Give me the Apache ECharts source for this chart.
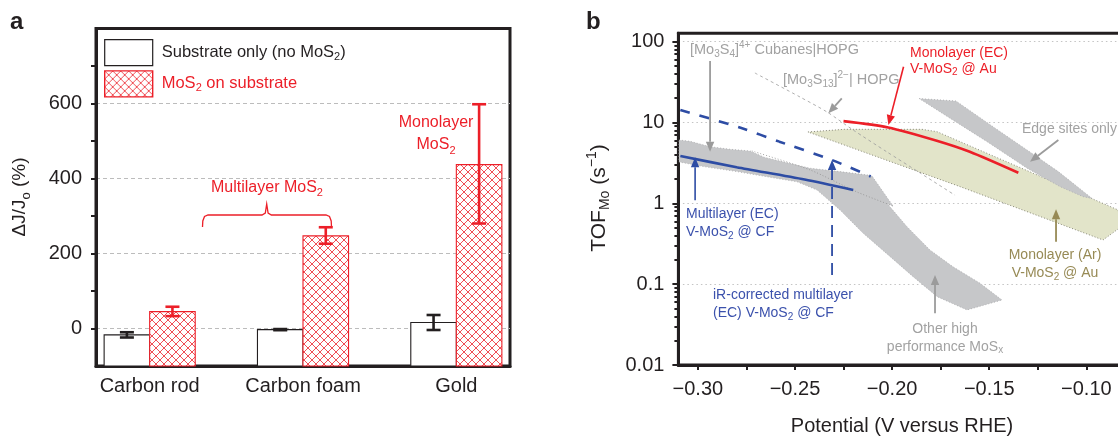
<!DOCTYPE html>
<html>
<head>
<meta charset="utf-8">
<script src="https://cdn.jsdelivr.net/npm/echarts@6/dist/echarts.min.js"></script>
<style>
  html, body { margin: 0; padding: 0; background: #fff; }
  #chart { width: 1118px; height: 436px; }
</style>
</head>
<body>
<div id="chart"></div>
<script>
// ---- panel a : dJ/Jo per substrate ----
const categories = ['Carbon rod', 'Carbon foam', 'Gold'];
const substrateOnly = [-17, -3, 16];
const substrateLow = [-24, -4.5, -4];
const substrateHigh = [-10, -1.5, 36];
const mos2OnSubstrate = [45, 247, 437];
const mos2Low = [33, 226, 280];
const mos2High = [58, 270, 598];
const deltaTicks = [0, 200, 400, 600];
const deltaMinorTicks = [100, 300, 500, 700];

// ---- panel b : TOF vs potential, points are [V vs RHE, TOF s^-1] ----
const multilayerEC = [[-0.309, 3.85], [-0.28, 2.8], [-0.245, 1.97], [-0.220, 1.46]];
const multilayerIR = [[-0.309, 14.3], [-0.278, 8.6], [-0.258, 5.8], [-0.231, 3.44], [-0.211, 2.15]];
const monolayerEC = [[-0.225, 10.4], [-0.202, 8.7], [-0.177, 5.96], [-0.160, 4.35], [-0.135, 2.39]];
const monolayerAr = [[-0.2433, 7.64], [-0.2247, 8.24], [-0.1846, 8.24], [-0.1769, 7.71], [-0.0837, 0.83],
  [-0.0815, 0.525], [-0.0914, 0.352], [-0.165, 1.61]];
const edgeSitesOnly = [[-0.1861, 19.8], [-0.1671, 18.5], [-0.1480, 8.87], [-0.1305, 4.57], [-0.1144, 2.47],
  [-0.0970, 1.15], [-0.1017, 1.21], [-0.1135, 1.61], [-0.1305, 2.72], [-0.1511, 5.8], [-0.1686, 10.7]];
const otherMoSx = [[-0.3097, 6.08], [-0.304, 5.86], [-0.2937, 5.02], [-0.2834, 4.67], [-0.2731, 4.45],
  [-0.2659, 3.72], [-0.2541, 3.18], [-0.2422, 2.72], [-0.2268, 2.47], [-0.2124, 2.24], [-0.2103, 2.18],
  [-0.1995, 0.927], [-0.2026, 1.0], [-0.1923, 0.514], [-0.1805, 0.265], [-0.1686, 0.164], [-0.1547, 0.1026],
  [-0.1434, 0.0637], [-0.1614, 0.048], [-0.1768, 0.070], [-0.1892, 0.124], [-0.2010, 0.219], [-0.2149, 0.427],
  [-0.2268, 0.828], [-0.2386, 1.46], [-0.2489, 1.85], [-0.2628, 2.10], [-0.2798, 2.47], [-0.2970, 2.85],
  [-0.3097, 3.25]];
const mo3s13Hopg = [[-0.2706, 41.0], [-0.2474, 20.7], [-0.2335, 13.5], [-0.2201, 8.1], [-0.2026, 4.32],
  [-0.1856, 2.38], [-0.1676, 1.26]];
const cubaneOutline = [[-0.2722, 4.45], [-0.2422, 2.59], [-0.2180, 1.38], [-0.1995, 0.927]];
// arrows: [fromV, fromTOF, toV, toTOF]
const blueArrows = [[-0.3014, 1.09, -0.3014, 3.72]];
const irArrows = [[-0.2309, 0.13, -0.2309, 3.44]];
const redArrows = [[-0.1941, 49, -0.2019, 9.3]];
const grayArrows = [[-0.2937, 57.7, -0.2937, 4.35], [-0.2259, 19.9, -0.2328, 13.0],
  [-0.1144, 6.08, -0.1290, 3.27], [-0.1779, 0.0437, -0.1779, 0.13]];
const khakiArrows = [[-0.1156, 0.336, -0.1156, 0.843]];
const potentialTicks = [-0.30, -0.25, -0.20, -0.15, -0.10];
const potentialMinorTicks = [-0.30, -0.275, -0.25, -0.225, -0.20, -0.175, -0.15, -0.125, -0.10];
const tofTicks = [0.01, 0.1, 1, 10, 100];

const FONT = '"Liberation Sans", Arial, Helvetica, sans-serif';
const INK = '#231f20';
const RED = '#ec1f28';
const BLUE = '#2d4ca4';
const BLUE_TEXT = '#3b51ac';
const GRAY_TEXT = '#a2a2a2';
const GRAY_LINE = '#9a9a9a';
const GRAY_FILL = '#c6c7c9';
const KHAKI_FILL = '#e2e4c9';
const KHAKI_TEXT = '#978a55';

const log = Math.log10;
const logPts = pts => pts.map(p => [p[0], log(p[1])]);

const minorLogTicks = [];
for (let d = -2; d < 2; d++) {
  for (let k = 2; k <= 9; k++) minorLogTicks.push(log(k * Math.pow(10, d)));
}

// red cross-hatch fill
function makeHatch ()
{
  const c = document.createElement('canvas');
  c.width = 8; c.height = 8;
  const g = c.getContext('2d');
  g.fillStyle = '#fff';
  g.fillRect(0, 0, 8, 8);
  g.strokeStyle = '#ee3a42';
  g.lineWidth = 0.9;
  g.beginPath();
  g.moveTo(-1, -1); g.lineTo(9, 9);
  g.moveTo(9, -1); g.lineTo(-1, 9);
  g.stroke();
  return c;
}
const hatch = { image: makeHatch(), repeat: 'repeat' };

function barSeries (name, values, lows, highs, offset, fill, stroke)
{
  return {
    type: 'custom', name: name, xAxisIndex: 0, yAxisIndex: 0, z: 3,
    itemStyle: { color: fill, borderColor: stroke, borderWidth: 1 },
    data: values.map((v, i) => [i, v, lows[i], highs[i]]),
    encode: { x: 0, y: 1 },
    renderItem: function (params, api)
    {
      const x = api.value(0) + offset;
      const top = api.coord([x, api.value(1)]);
      const base = api.coord([x, -100]);
      const w = api.size([0.297, 0])[0];
      const yLo = api.coord([x, api.value(2)])[1];
      const yHi = api.coord([x, api.value(3)])[1];
      const cx = top[0];
      const err = { stroke: stroke, lineWidth: 2.6 };
      return {
        type: 'group', children: [
          { type: 'rect', shape: { x: cx - w / 2, y: top[1], width: w, height: base[1] - top[1] },
            style: { fill: fill, stroke: stroke, lineWidth: 1.1 } },
          { type: 'line', shape: { x1: cx, y1: yLo, x2: cx, y2: yHi }, style: err },
          { type: 'line', shape: { x1: cx - 7, y1: yLo, x2: cx + 7, y2: yLo }, style: err },
          { type: 'line', shape: { x1: cx - 7, y1: yHi, x2: cx + 7, y2: yHi }, style: err }
        ]
      };
    }
  };
}

function areaSeries (name, pts, fill, stroke, dash)
{
  return {
    type: 'custom', name: name, xAxisIndex: 1, yAxisIndex: 2, z: 1, silent: true, clip: true,
    data: [[pts[0][0], log(pts[0][1])]],
    encode: { x: 0, y: 1 },
    renderItem: function (params, api)
    {
      return {
        type: 'polygon',
        shape: { points: pts.map(p => api.coord([p[0], log(p[1])])) },
        style: { fill: fill, stroke: stroke, lineWidth: 0.8, lineDash: dash }
      };
    }
  };
}

function lineSeries (name, pts, color, width, dash, z)
{
  return {
    type: 'line', name: name, xAxisIndex: 1, yAxisIndex: 2, z: z, silent: true,
    showSymbol: false, symbol: 'none', smooth: 0.25, clip: true,
    data: logPts(pts),
    lineStyle: { color: color, width: width, type: dash || 'solid', cap: 'butt' }
  };
}

function arrowSeries (name, list, color, width, dash)
{
  return {
    type: 'custom', name: name, xAxisIndex: 1, yAxisIndex: 2, z: 5, silent: true,
    data: list.map(a => [a[0], log(a[1]), a[2], log(a[3])]),
    encode: { x: [0, 2], y: [1, 3] },
    renderItem: function (params, api)
    {
      const p1 = api.coord([api.value(0), api.value(1)]);
      const p2 = api.coord([api.value(2), api.value(3)]);
      const dx = p2[0] - p1[0], dy = p2[1] - p1[1];
      const len = Math.hypot(dx, dy);
      const ux = dx / len, uy = dy / len;
      const hl = 10, hw = 4.2;
      const bx = p2[0] - ux * hl, by = p2[1] - uy * hl;
      return {
        type: 'group', children: [
          { type: 'line', shape: { x1: p1[0], y1: p1[1], x2: bx, y2: by },
            style: { stroke: color, lineWidth: width, lineDash: dash || null } },
          { type: 'polygon', shape: { points: [[p2[0], p2[1]], [bx - uy * hw, by + ux * hw], [bx + uy * hw, by - ux * hw]] },
            style: { fill: color } }
        ]
      };
    }
  };
}

function richFor (size, color)
{
  const s = Math.round(size * 0.68);
  return {
    sub: { fontSize: s, fontFamily: FONT, fill: color, verticalAlign: 'bottom', lineHeight: s },
    sup: { fontSize: s, fontFamily: FONT, fill: color, verticalAlign: 'top', lineHeight: s }
  };
}

function note (x, y, text, size, color, opts)
{
  opts = opts || {};
  const lh = opts.lineHeight || Math.round(size * 1.3);
  return {
    type: 'text', x: x, y: y, rotation: opts.rotation || 0, z: 100, silent: true,
    style: {
      text: text, fill: color, fontSize: size, fontFamily: FONT, fontWeight: opts.weight || 'normal',
      align: opts.align || 'left', textAlign: opts.align || 'left',
      verticalAlign: 'middle', textVerticalAlign: 'middle',
      lineHeight: lh, rich: richFor(size, color)
    }
  };
}

const tickLabel = { color: INK, fontSize: 20, fontFamily: FONT };

let myChart = echarts.init(document.getElementById('chart'));
let option = {
  animation: false,
  backgroundColor: '#fff',
  textStyle: { fontFamily: FONT },
  grid: [
    { left: 96, top: 28.5, width: 414, height: 337.5, show: true, borderColor: INK, borderWidth: 3,
      backgroundColor: 'transparent', containLabel: false, outerBoundsMode: 'none' },
    { left: 678.4, top: 33.3, width: 456.5, height: 331.7, show: true, borderColor: INK, borderWidth: 3,
      backgroundColor: 'transparent', containLabel: false, outerBoundsMode: 'none' }
  ],
  legend: {
    left: 104, top: 39, orient: 'vertical', itemWidth: 48, itemHeight: 26, itemGap: 4, padding: 0,
    icon: 'rect', selectedMode: false,
    data: [
      { name: 'Substrate only (no MoS2)', itemStyle: { color: '#fff', borderColor: INK, borderWidth: 1.2 },
        textStyle: { color: INK } },
      { name: 'MoS2 on substrate', itemStyle: { color: hatch, borderColor: RED, borderWidth: 1.4 },
        textStyle: { color: RED } }
    ],
    formatter: function (name)
    {
      return name === 'MoS2 on substrate' ? 'MoS{sub|2} on substrate' : 'Substrate only (no MoS{sub|2})';
    },
    textStyle: {
      fontSize: 16.5, fontFamily: FONT, padding: [0, 0, 0, 4], lineHeight: 20,
      rich: { sub: { fontSize: 11, verticalAlign: 'bottom', lineHeight: 11, fontFamily: FONT } }
    }
  },
  xAxis: [
    {
      gridIndex: 0, type: 'value', min: -0.35, max: 2.35,
      axisLine: { onZero: false, lineStyle: { color: INK, width: 3 } },
      axisTick: { show: false },
      axisLabel: Object.assign({ customValues: [0, 1, 2], margin: 10,
        formatter: v => categories[Math.round(v)] }, tickLabel),
      splitLine: { show: false }
    },
    {
      gridIndex: 1, type: 'value', min: -0.31, max: -0.075,
      axisLine: { onZero: false, lineStyle: { color: INK, width: 3 } },
      axisTick: { customValues: potentialMinorTicks, length: 5, lineStyle: { color: INK, width: 2 } },
      axisLabel: Object.assign({ customValues: potentialTicks, margin: 14,
        formatter: v => '\u2212' + Math.abs(v).toFixed(2) }, tickLabel),
      splitLine: { show: false }
    }
  ],
  yAxis: [
    {
      gridIndex: 0, type: 'value', min: -100, max: 800, position: 'left',
      axisLine: { onZero: false, lineStyle: { color: INK, width: 3 } },
      axisTick: { customValues: deltaTicks, length: 5, lineStyle: { color: INK, width: 2 } },
      axisLabel: Object.assign({ customValues: deltaTicks, margin: 14 }, tickLabel),
      splitLine: { show: true, lineStyle: { color: '#bcbcbc', width: 1, type: [4, 3] } }
    },
    {
      gridIndex: 0, type: 'value', min: -100, max: 800, position: 'left',
      axisLine: { show: false, onZero: false },
      axisTick: { customValues: deltaMinorTicks, length: 5, lineStyle: { color: INK, width: 2 } },
      axisLabel: { show: false },
      splitLine: { show: false }
    },
    {
      gridIndex: 1, type: 'value', min: -2, max: 2.104, position: 'left',
      axisLine: { onZero: false, lineStyle: { color: INK, width: 3 } },
      axisTick: { customValues: tofTicks.map(log), length: 6, lineStyle: { color: INK, width: 2 } },
      axisLabel: Object.assign({ customValues: tofTicks.map(log), margin: 14,
        formatter: v => String(Number(Math.pow(10, v).toPrecision(1))) }, tickLabel),
      splitLine: { show: true, lineStyle: { color: '#c4c4c4', width: 1, type: [1.5, 3] } }
    },
    {
      gridIndex: 1, type: 'value', min: -2, max: 2.104, position: 'left',
      axisLine: { show: false, onZero: false },
      axisTick: { customValues: minorLogTicks, length: 4, lineStyle: { color: INK, width: 2 } },
      axisLabel: { show: false },
      splitLine: { show: false }
    }
  ],
  series: [
    barSeries('Substrate only (no MoS2)', substrateOnly, substrateLow, substrateHigh, -0.1485, '#fff', INK),
    barSeries('MoS2 on substrate', mos2OnSubstrate, mos2Low, mos2High, 0.1485, hatch, RED),

    areaSeries('Monolayer (Ar) V-MoS2 @ Au', monolayerAr, KHAKI_FILL, '#6f6f60', [1, 2]),
    areaSeries('Other high performance MoSx', otherMoSx, GRAY_FILL, '#a9aaac', [1, 2]),
    areaSeries('Edge sites only', edgeSitesOnly, GRAY_FILL, '#a9aaac', [1, 2]),
    lineSeries('[Mo3S13]2- | HOPG', mo3s13Hopg, GRAY_LINE, 0.8, [3, 3], 2),
    lineSeries('Cubane outline', cubaneOutline, '#8f8f8f', 0.8, [1, 2], 2),
    lineSeries('iR-corrected multilayer (EC)', multilayerIR, BLUE, 2.6, [10, 10], 3),
    lineSeries('Multilayer (EC) V-MoS2 @ CF', multilayerEC, BLUE, 2.6, null, 3),
    lineSeries('Monolayer (EC) V-MoS2 @ Au', monolayerEC, RED, 2.6, null, 3),

    arrowSeries('blue arrow', blueArrows, BLUE, 1.6),
    arrowSeries('iR arrow', irArrows, BLUE, 1.8, [12, 7]),
    arrowSeries('red arrow', redArrows, RED, 1.6),
    arrowSeries('gray arrows', grayArrows, '#9b9b9b', 1.8),
    arrowSeries('khaki arrow', khakiArrows, KHAKI_TEXT, 1.8)
  ],
  graphic: {
    elements: [
      note(10, 22, 'a', 24, INK, { weight: 'bold' }),
      note(586, 22, 'b', 24, INK, { weight: 'bold' }),

      // panel a
      note(20, 197, '\u0394J/J{sub|o} (%)', 19, INK, { rotation: Math.PI / 2, align: 'center' }),
      note(267, 188, 'Multilayer MoS{sub|2}', 16, RED, { align: 'center' }),
      note(436, 134, 'Monolayer\nMoS{sub|2}', 16, RED, { align: 'center', lineHeight: 22 }),
      {
        type: 'polyline', z: 100, silent: true,
        shape: { points: [[202.5, 227], [202.8, 221], [204.5, 216.5], [208, 215], [262, 215], [265.3, 213],
          [266.7, 204], [268.1, 213], [271.4, 215], [326, 215], [329.5, 216.5], [331.2, 221], [331.5, 227]] },
        style: { fill: null, stroke: RED, lineWidth: 1.3 }
      },

      // panel b
      note(599, 198, 'TOF{sub|Mo} (s{sup|\u22121})', 21, INK, { rotation: Math.PI / 2, align: 'center' }),
      note(902, 426, 'Potential (V versus RHE)', 20, INK, { align: 'center' }),
      note(690, 50, '[Mo{sub|3}S{sub|4}]{sup|4+} Cubanes|HOPG', 14.5, GRAY_TEXT),
      note(783, 80, '[Mo{sub|3}S{sub|13}]{sup|2\u2212}| HOPG', 14.5, GRAY_TEXT),
      note(910, 61.5, 'Monolayer (EC)\nV-MoS{sub|2} @ Au', 14, RED, { lineHeight: 16 }),
      note(1022, 129.5, 'Edge sites only', 14, GRAY_TEXT),
      note(1055, 264, 'Monolayer (Ar)\nV-MoS{sub|2} @ Au', 14, KHAKI_TEXT, { align: 'center', lineHeight: 18 }),
      note(686, 223, 'Multilayer (EC)\nV-MoS{sub|2} @ CF', 14, BLUE_TEXT, { lineHeight: 18 }),
      note(713, 304, 'iR-corrected multilayer\n(EC) V-MoS{sub|2} @ CF', 14, BLUE_TEXT, { lineHeight: 18 }),
      note(945, 338, 'Other high\nperformance MoS{sub|x}', 14, GRAY_TEXT, { align: 'center', lineHeight: 17.5 })
    ]
  }
};
myChart.setOption(option);
window.addEventListener('resize', function ()
{
  myChart.resize();
});
</script>
</body>
</html>
